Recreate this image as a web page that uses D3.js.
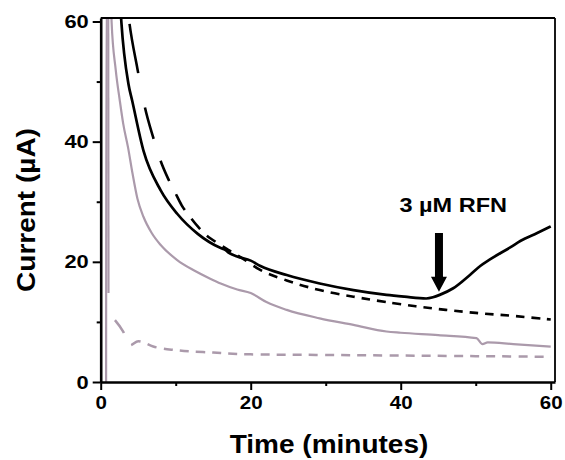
<!DOCTYPE html>
<html><head><meta charset="utf-8">
<script src="https://cdn.jsdelivr.net/npm/d3@7"></script>
<style>
body{margin:0;background:#fff;}
text{font-family:Arial,"Liberation Sans",sans-serif;font-weight:bold;fill:#000;}
</style></head>
<body><svg id="c" width="565" height="460"></svg>
<script>
// ---- data (time in minutes, current in µA) ----
const blackSolid = [[2.6,63],[2.75,60],[3.7,49.6],[4.2,46.8],[5.7,38.5],[8.0,31.9],[10.2,28.0],[12.9,24.7],[16.0,22.3],[16.6,22.0],[17.1,21.5],[18.2,20.9],[20.0,20.2],[21.3,19.3],[24.8,17.8],[29.2,16.4],[33.7,15.3],[38.1,14.5],[40.5,14.2],[43.4,13.9],[44.3,14.1],[45.2,14.5],[47.0,15.6],[49.3,17.9],[50.6,19.3],[51.9,20.4],[54.6,22.4],[56.0,23.5],[58.2,24.8],[60.0,25.9]];
const blackDashed = [[3.6,62],[3.8,60],[4.9,52.1],[5.9,45.7],[7.0,40.7],[7.9,37.1],[9.0,33.8],[9.9,31.6],[10.8,29.4],[11.9,27.5],[13.0,25.8],[14.1,24.4],[15.0,23.6],[17.0,22.0],[19.0,20.5],[20.9,18.9],[24.8,16.9],[29.2,15.3],[33.7,14.2],[38.1,13.3],[42.0,12.6],[46.0,12.0],[50.0,11.5],[55.0,11.0],[60.0,10.4]];
const greySolid = [[0.72,0],[0.76,66],[1.35,66],[1.45,60],[2.0,52],[2.55,46.8],[3.0,43.0],[3.65,39.0],[4.2,35.0],[4.9,30.5],[5.7,27.5],[6.8,24.8],[8.0,22.8],[10.2,20.3],[12.4,18.6],[14.6,17.2],[16.0,16.4],[18.2,15.4],[20.0,14.8],[22.1,13.3],[24.8,12.0],[29.2,10.6],[33.7,9.5],[38.1,8.4],[40.0,8.2],[45.0,7.8],[50.1,7.3],[50.9,6.3],[51.6,6.6],[55.0,6.3],[60.0,5.9]];
const greyDashedSpike = [[1.0,66],[1.04,14.8]];
const greyDashed = [[1.9,10.3],[3.0,8.4],[3.9,6.1],[5.0,6.8],[7.0,5.9],[10.0,5.3],[15.0,4.9],[20.0,4.6],[30.0,4.5],[40.0,4.4],[50.0,4.3],[60.0,4.2]];
const xTicks = [0,20,40,60];
const xMinor = [10,30,50];
const yTicks = [0,20,40,60];
const yMinor = [10,30,50];
const arrowX = 45.1, arrowTop = 24.8, arrowTip = 15.0;
const labelText = "3 µM RFN", labelX = 47.0, labelY = 28.3;

// ---- layout ----
const svg = d3.select("#c");
const L = 100.7, R = 555, T = 18, B = 382;
const x = d3.scaleLinear().domain([0,60.57]).range([L,R]);
const y = d3.scaleLinear().domain([0,60.58]).range([B,T]);

svg.append("clipPath").attr("id","clip").append("rect")
  .attr("x",L).attr("y",T).attr("width",R-L).attr("height",B-T);

const line = d3.line().x(d=>x(d[0])).y(d=>y(d[1])).curve(d3.curveMonotoneX);
const g = svg.append("g").attr("clip-path","url(#clip)");
const grey = "#ab9aab";

// dashes that alternate over equal time intervals (as in the original trace)
function timeDash(path, t0, period, on){
  const node = path.node(), len = node.getTotalLength();
  const runs = []; let state = null, runStart = 0;
  for(let s=0; s<=len; s+=0.5){
    const p = node.getPointAtLength(s);
    const t = x.invert(p.x);
    const ph = (((t - t0) % period) + period) % period;
    const st = ph < on;
    if(state===null){ state = st; runStart = 0; if(!st) runs.push(0); }
    else if(st!==state){ runs.push(s-runStart); runStart = s; state = st; }
  }
  runs.push(len-runStart+1);
  if(runs.length%2) runs.push(0);
  path.attr("stroke-dasharray", runs.map(v=>v.toFixed(2)).join(","));
}

g.append("path").attr("d",line(greySolid)).attr("fill","none").attr("stroke",grey).attr("stroke-width",2.2);
g.append("path").attr("d",d3.line().x(d=>x(d[0])).y(d=>y(d[1]))(greyDashedSpike)).attr("fill","none").attr("stroke",grey).attr("stroke-width",2.2);
const gd = g.append("path").attr("d",line(greyDashed)).attr("fill","none").attr("stroke",grey).attr("stroke-width",2.5);
timeDash(gd, 1.9, 2.15, 1.2);
const bd = g.append("path").attr("d",line(blackDashed)).attr("fill","none").attr("stroke","#000").attr("stroke-width",2.6);
timeDash(bd, 5.9, 2.06, 1.15);
g.append("path").attr("d",line(blackSolid)).attr("fill","none").attr("stroke","#000").attr("stroke-width",2.7);

// frame top/right
svg.append("line").attr("x1",L).attr("x2",R).attr("y1",T).attr("y2",T).attr("stroke","#000").attr("stroke-width",1.8);
svg.append("line").attr("x1",R).attr("x2",R).attr("y1",T).attr("y2",B).attr("stroke","#000").attr("stroke-width",1.8);

// axes
function styleAxis(sel){
  sel.selectAll(".domain").attr("stroke","#000").attr("stroke-width",2.6);
  sel.selectAll(".tick line").attr("stroke","#000").attr("stroke-width",2);
  sel.selectAll(".tick text").attr("font-size",19).attr("font-family",'Arial,"Liberation Sans",sans-serif').attr("font-weight","bold").attr("fill","#000");
}
const xa = svg.append("g").attr("transform",`translate(0,${B})`)
  .call(d3.axisBottom(x).tickValues(xTicks).tickSize(8).tickSizeOuter(0).tickPadding(6).tickFormat(d3.format("d")));
styleAxis(xa);
const xm = svg.append("g").attr("transform",`translate(0,${B})`)
  .call(d3.axisBottom(x).tickValues(xMinor).tickSize(4).tickFormat(""));
xm.select(".domain").remove(); styleAxis(xm);
const ya = svg.append("g").attr("transform",`translate(${L},0)`)
  .call(d3.axisLeft(y).tickValues(yTicks).tickSize(8).tickSizeOuter(0).tickPadding(4).tickFormat(d3.format("d")));
styleAxis(ya);
const ym = svg.append("g").attr("transform",`translate(${L},0)`)
  .call(d3.axisLeft(y).tickValues(yMinor).tickSize(4).tickFormat(""));
ym.select(".domain").remove(); styleAxis(ym);
ya.selectAll(".tick text").attr("transform","scale(1.15,1)").attr("x",-12/1.15);
xa.selectAll(".tick text").attr("transform","scale(1.08,1)");

// titles
svg.append("text").attr("transform","translate(329,453) scale(1.12,1)")
  .attr("text-anchor","middle").attr("font-size",25).text("Time (minutes)");
svg.append("text").attr("transform","translate(35,210) rotate(-90) scale(1.12,1)")
  .attr("text-anchor","middle").attr("font-size",25).text("Current (µA)");

// annotation
svg.append("text").attr("transform",`translate(${x(labelX)},${y(labelY)}) scale(1.12,1)`)
  .attr("text-anchor","middle").attr("font-size",21).text(labelText);
const ax = x(arrowX), a0 = y(arrowTop), a1 = y(arrowTip), hl = 15, sw = 4, hw = 8;
svg.append("path").attr("fill","#000")
  .attr("d",`M${ax-sw},${a0} L${ax+sw},${a0} L${ax+sw},${a1-hl} L${ax+hw},${a1-hl} L${ax},${a1} L${ax-hw},${a1-hl} L${ax-sw},${a1-hl} Z`);
</script></body></html>
